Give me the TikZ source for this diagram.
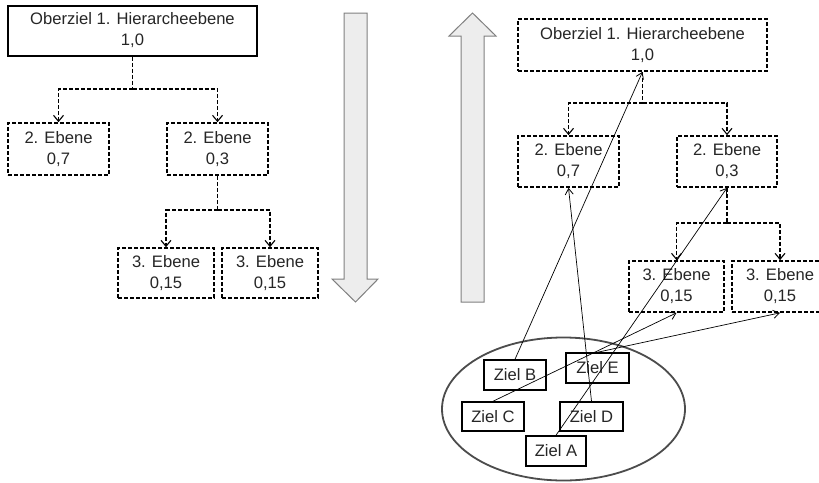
\documentclass[tikz,border=0pt]{standalone}
\usepackage{fontspec}
\setmainfont{Liberation Sans}
\usetikzlibrary{arrows.meta}
\begin{document}
\begin{tikzpicture}[x=1pt,y=-1pt,
  every node/.style={font=\fontsize{16.6}{21}\selectfont, align=center, inner sep=0pt, text=black!85},
  solidbox/.style={draw, line width=2pt, fill=white},
  dashbox/.style={draw, line width=1.7pt, dash pattern=on 4pt off 2pt, fill=white},
  zielbox/.style={draw, line width=1.5pt, fill=white},
  conn/.style={line width=1.3pt, dash pattern=on 4pt off 2pt},
  connarrow/.style={conn, -{Straight Barb[length=6pt,width=10pt,line width=1.1pt]}},
  thinarrow/.style={line width=0.7pt, -{Straight Barb[length=6pt,width=8pt,line width=0.8pt]}},
  bigarrow/.style={draw=black!50, line width=1pt, fill=black!7},
]
\clip (0,0) rectangle (819,482);
\fill[white] (0,0) rectangle (819,482);

% ---------- left tree ----------
\node[solidbox, minimum width=249pt, minimum height=50pt] (L0) at (132.5,30.5) {Oberziel 1. Hierarcheebene\\1,0};
\node[dashbox, minimum width=101pt, minimum height=52pt] (L1) at (58.5,149) {2. Ebene\\0,7};
\node[dashbox, minimum width=101pt, minimum height=52pt] (L2) at (217.5,149) {2. Ebene\\0,3};
\node[dashbox, minimum width=96pt, minimum height=50pt] (L3) at (166,273) {3. Ebene\\0,15};
\node[dashbox, minimum width=96pt, minimum height=50pt] (L4) at (270,273) {3. Ebene\\0,15};
\coordinate (j0) at (132.5,89);
\coordinate (j1) at (217.5,210);
\draw[conn] (L0.south) -- (j0);
\draw[connarrow] (j0) -| (L1.north);
\draw[connarrow] (j0) -| (L2.north);
\draw[conn] (L2.south) -- (j1);
\draw[connarrow] (j1) -| (L3.north);
\draw[connarrow] (j1) -| (L4.north);

% down arrow
\draw[bigarrow] (344,13) -- (367,13) -- (367,279) -- (378,279) -- (355.5,302) -- (332,279) -- (344,279) -- cycle;
% up arrow
\draw[bigarrow] (461,302) -- (484,302) -- (484,36) -- (496,36) -- (472.5,13) -- (449,36) -- (461,36) -- cycle;

% ---------- right tree ----------
\node[dashbox, minimum width=249pt, minimum height=52pt] (R0) at (642.5,45) {Oberziel 1. Hierarcheebene\\1,0};
\node[dashbox, minimum width=101pt, minimum height=51pt] (R1) at (568.5,161.5) {2. Ebene\\0,7};
\node[dashbox, minimum width=100pt, minimum height=51pt] (R2) at (727,161.5) {2. Ebene\\0,3};
\node[dashbox, minimum width=95pt, minimum height=51pt] (R3) at (676.5,286.5) {3. Ebene\\0,15};
\node[dashbox, minimum width=96pt, minimum height=51pt] (R4) at (780,286.5) {3. Ebene\\0,15};
\coordinate (j2) at (642.5,103);
\coordinate (j3) at (727,223);
\draw[conn] (R0.south) -- (j2);
\draw[connarrow] (j2) -| (R1.north);
\draw[connarrow] (j2) -| (R2.north);
\draw[conn] (R2.south) -- (j3);
\draw[connarrow] (j3) -| (R3.north);
\draw[connarrow] (j3) -| (R4.north);

% ellipse with goals
\draw[draw=black!70, line width=1.8pt] (563.5,409) ellipse [x radius=121.5, y radius=71.5];
\node[zielbox, minimum width=62pt, minimum height=30pt] (ZB) at (515,375) {Ziel B};
\node[zielbox, minimum width=63pt, minimum height=30pt] (ZE) at (597.5,368) {Ziel E};
\node[zielbox, minimum width=62pt, minimum height=29pt] (ZC) at (493,416.5) {Ziel C};
\node[zielbox, minimum width=63pt, minimum height=29pt] (ZD) at (591.5,416.5) {Ziel D};
\node[zielbox, minimum width=60pt, minimum height=30pt] (ZA) at (556,451) {Ziel A};

% assignment lines
\draw[thinarrow] (ZB.north) -- (R0.south);
\draw[thinarrow] (ZD.north) -- (R1.south);
\draw[thinarrow] (ZA.north) -- (R2.south);
\draw[thinarrow] (ZC.north) -- (R3.south);
\draw[thinarrow] (ZE.north) -- (R4.south);
\end{tikzpicture}
\end{document}
